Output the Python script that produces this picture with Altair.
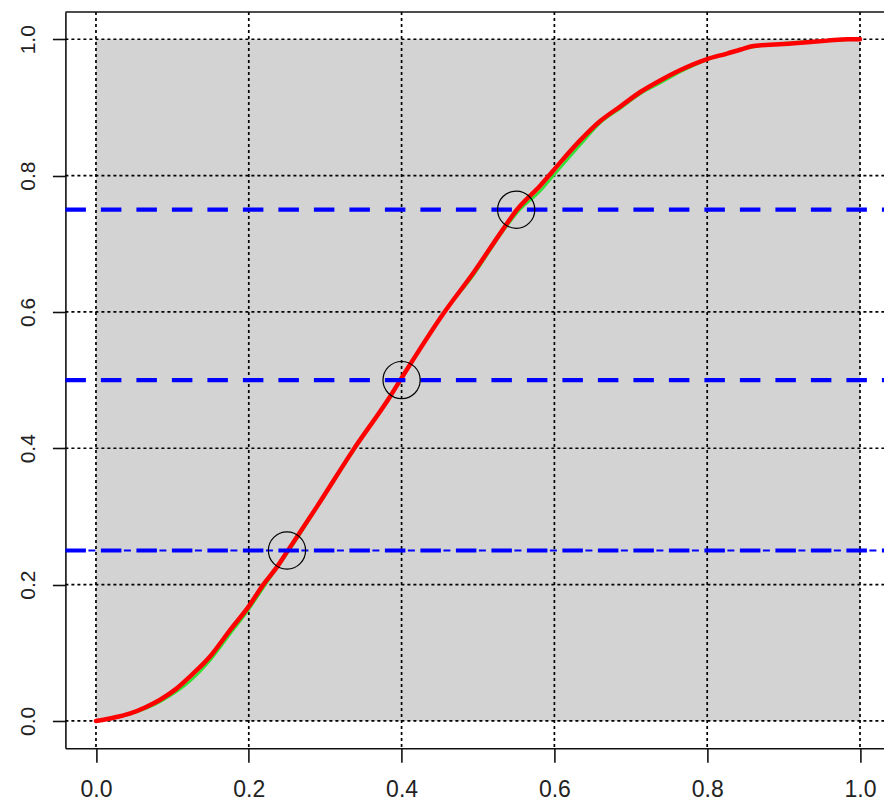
import altair as alt
import pandas as pd

# ---- data ----
tick_values = [0.0, 0.2, 0.4, 0.6, 0.8, 1.0]

red_x = [0.000, 0.020, 0.045, 0.065, 0.084, 0.105, 0.123, 0.149, 0.176, 0.200,
         0.219, 0.237, 0.250, 0.289, 0.337, 0.385, 0.400, 0.455, 0.495, 0.532,
         0.551, 0.582, 0.599, 0.634, 0.660, 0.687, 0.713, 0.739, 0.765, 0.800,
         0.826, 0.844, 0.861, 0.914, 0.958, 0.984, 1.000]
red_y = [0.000, 0.004, 0.011, 0.020, 0.031, 0.047, 0.065, 0.094, 0.134, 0.168,
         0.200, 0.226, 0.248, 0.314, 0.398, 0.476, 0.503, 0.598, 0.659, 0.720,
         0.750, 0.786, 0.808, 0.852, 0.880, 0.902, 0.923, 0.940, 0.955, 0.971,
         0.979, 0.985, 0.990, 0.994, 0.998, 1.000, 1.000]

green_x = [0.000, 0.045, 0.084, 0.123, 0.149, 0.176, 0.200, 0.219, 0.250, 0.289,
           0.337, 0.385, 0.400, 0.455, 0.495, 0.532, 0.551, 0.582, 0.599, 0.634,
           0.660, 0.687, 0.713, 0.739, 0.765, 0.800, 0.844, 0.900, 0.958, 1.000]
green_y = [0.000, 0.010, 0.028, 0.058, 0.088, 0.128, 0.163, 0.195, 0.245, 0.312,
           0.396, 0.476, 0.502, 0.598, 0.655, 0.717, 0.745, 0.778, 0.800, 0.845,
           0.877, 0.899, 0.920, 0.936, 0.952, 0.970, 0.985, 0.994, 0.998, 1.000]

quartile_levels = [0.25, 0.50, 0.75]
quartile_x = [0.25, 0.40, 0.55]

region_x = [0.0, 1.0]
region_y = [0.0, 1.0]

# ---- layout ----
W = 818.6
H = 736.2
FONT = "Liberation Sans"

xscale = alt.Scale(domain=[-0.04, 1.0314], nice=False, zero=False)
yscale = alt.Scale(domain=[-0.04, 1.04], nice=False, zero=False)

X_AX = alt.Axis(values=tick_values, format=".1f", title=None, grid=False,
                domain=True, domainColor="#111111", domainWidth=1.6,
                ticks=True, tickSize=14, tickColor="#111111", tickWidth=1.6,
                labelFont=FONT, labelFontSize=23, labelColor="#222222",
                labelBaseline="alphabetic", labelPadding=34, labelFlush=False,
                labelOverlap=False)
Y_AX = alt.Axis(values=tick_values, format=".1f", title=None, grid=False,
                domain=True, domainColor="#111111", domainWidth=1.6,
                ticks=True, tickSize=13, tickColor="#111111", tickWidth=1.6,
                labelFont=FONT, labelFontSize=21, labelColor="#222222",
                labelAngle=270, labelAlign="center", labelBaseline="alphabetic",
                labelPadding=18, labelFlush=False, labelOverlap=False)

df_rect = pd.DataFrame({"x": [region_x[0]], "x2": [region_x[1]],
                        "y": [region_y[0]], "y2": [region_y[1]]})
df_ticks = pd.DataFrame({"v": tick_values})
df_red = pd.DataFrame({"x": red_x, "y": red_y})
df_green = pd.DataFrame({"x": green_x, "y": green_y})
df_q = pd.DataFrame({"x": quartile_x, "y": quartile_levels})

rect = alt.Chart(df_rect).mark_rect(color="#D3D3D3").encode(
    x=alt.X("x:Q", scale=xscale, axis=X_AX),
    x2="x2:Q",
    y=alt.Y("y:Q", scale=yscale, axis=Y_AX),
    y2="y2:Q",
)

vgrid = alt.Chart(df_ticks).mark_rule(color="black", strokeWidth=1.7,
                                      strokeDash=[3, 3]).encode(
    x=alt.X("v:Q", scale=xscale, axis=X_AX),
    y=alt.value(0), y2=alt.value("height"),
)
hgrid = alt.Chart(df_ticks).mark_rule(color="black", strokeWidth=1.7,
                                      strokeDash=[3, 3]).encode(
    y=alt.Y("v:Q", scale=yscale, axis=Y_AX),
    x=alt.value(0), x2=alt.value("width"),
)

green = alt.Chart(df_green).mark_line(color="#33E033", strokeWidth=2.5,
                                      interpolate="monotone").encode(
    x=alt.X("x:Q", scale=xscale, axis=X_AX),
    y=alt.Y("y:Q", scale=yscale, axis=Y_AX),
)
red = alt.Chart(df_red).mark_line(color="#FF0000", strokeWidth=4.5,
                                  interpolate="monotone",
                                  strokeJoin="round", strokeCap="round").encode(
    x=alt.X("x:Q", scale=xscale, axis=X_AX),
    y=alt.Y("y:Q", scale=yscale, axis=Y_AX),
)

blue_thick = alt.Chart(df_q).mark_rule(color="#0000FF", strokeWidth=4.2,
                                       strokeDash=[20.5, 15]).encode(
    y=alt.Y("y:Q", scale=yscale, axis=Y_AX),
    x=alt.value(0), x2=alt.value("width"),
)
blue_thin = alt.Chart(df_q[df_q["y"] == quartile_levels[0]]).mark_rule(
    color="#0000FF", strokeWidth=1.8, strokeDash=[7, 28.5],
    strokeDashOffset=12.5).encode(
    y=alt.Y("y:Q", scale=yscale, axis=Y_AX),
    x=alt.value(0), x2=alt.value("width"),
)

circles = alt.Chart(df_q).mark_point(shape="circle", size=1385, filled=False,
                                     color="black", strokeWidth=1.2,
                                     opacity=1).encode(
    x=alt.X("x:Q", scale=xscale, axis=X_AX),
    y=alt.Y("y:Q", scale=yscale, axis=Y_AX),
)

top_border = alt.Chart(df_rect).mark_rule(color="#111111", strokeWidth=1.6).encode(
    x=alt.value(0), x2=alt.value("width"), y=alt.value(0),
)

chart = alt.layer(rect, vgrid, hgrid, green, red, blue_thin, blue_thick,
                  circles, top_border).properties(
    width=W, height=H,
    autosize=alt.AutoSizeParams(type="none"),
    padding={"left": 65.4, "top": 12, "right": 0, "bottom": 55},
    background="white",
).configure_view(stroke=None)

chart.save("out.html", embed_options={"renderer": "svg", "actions": False})
